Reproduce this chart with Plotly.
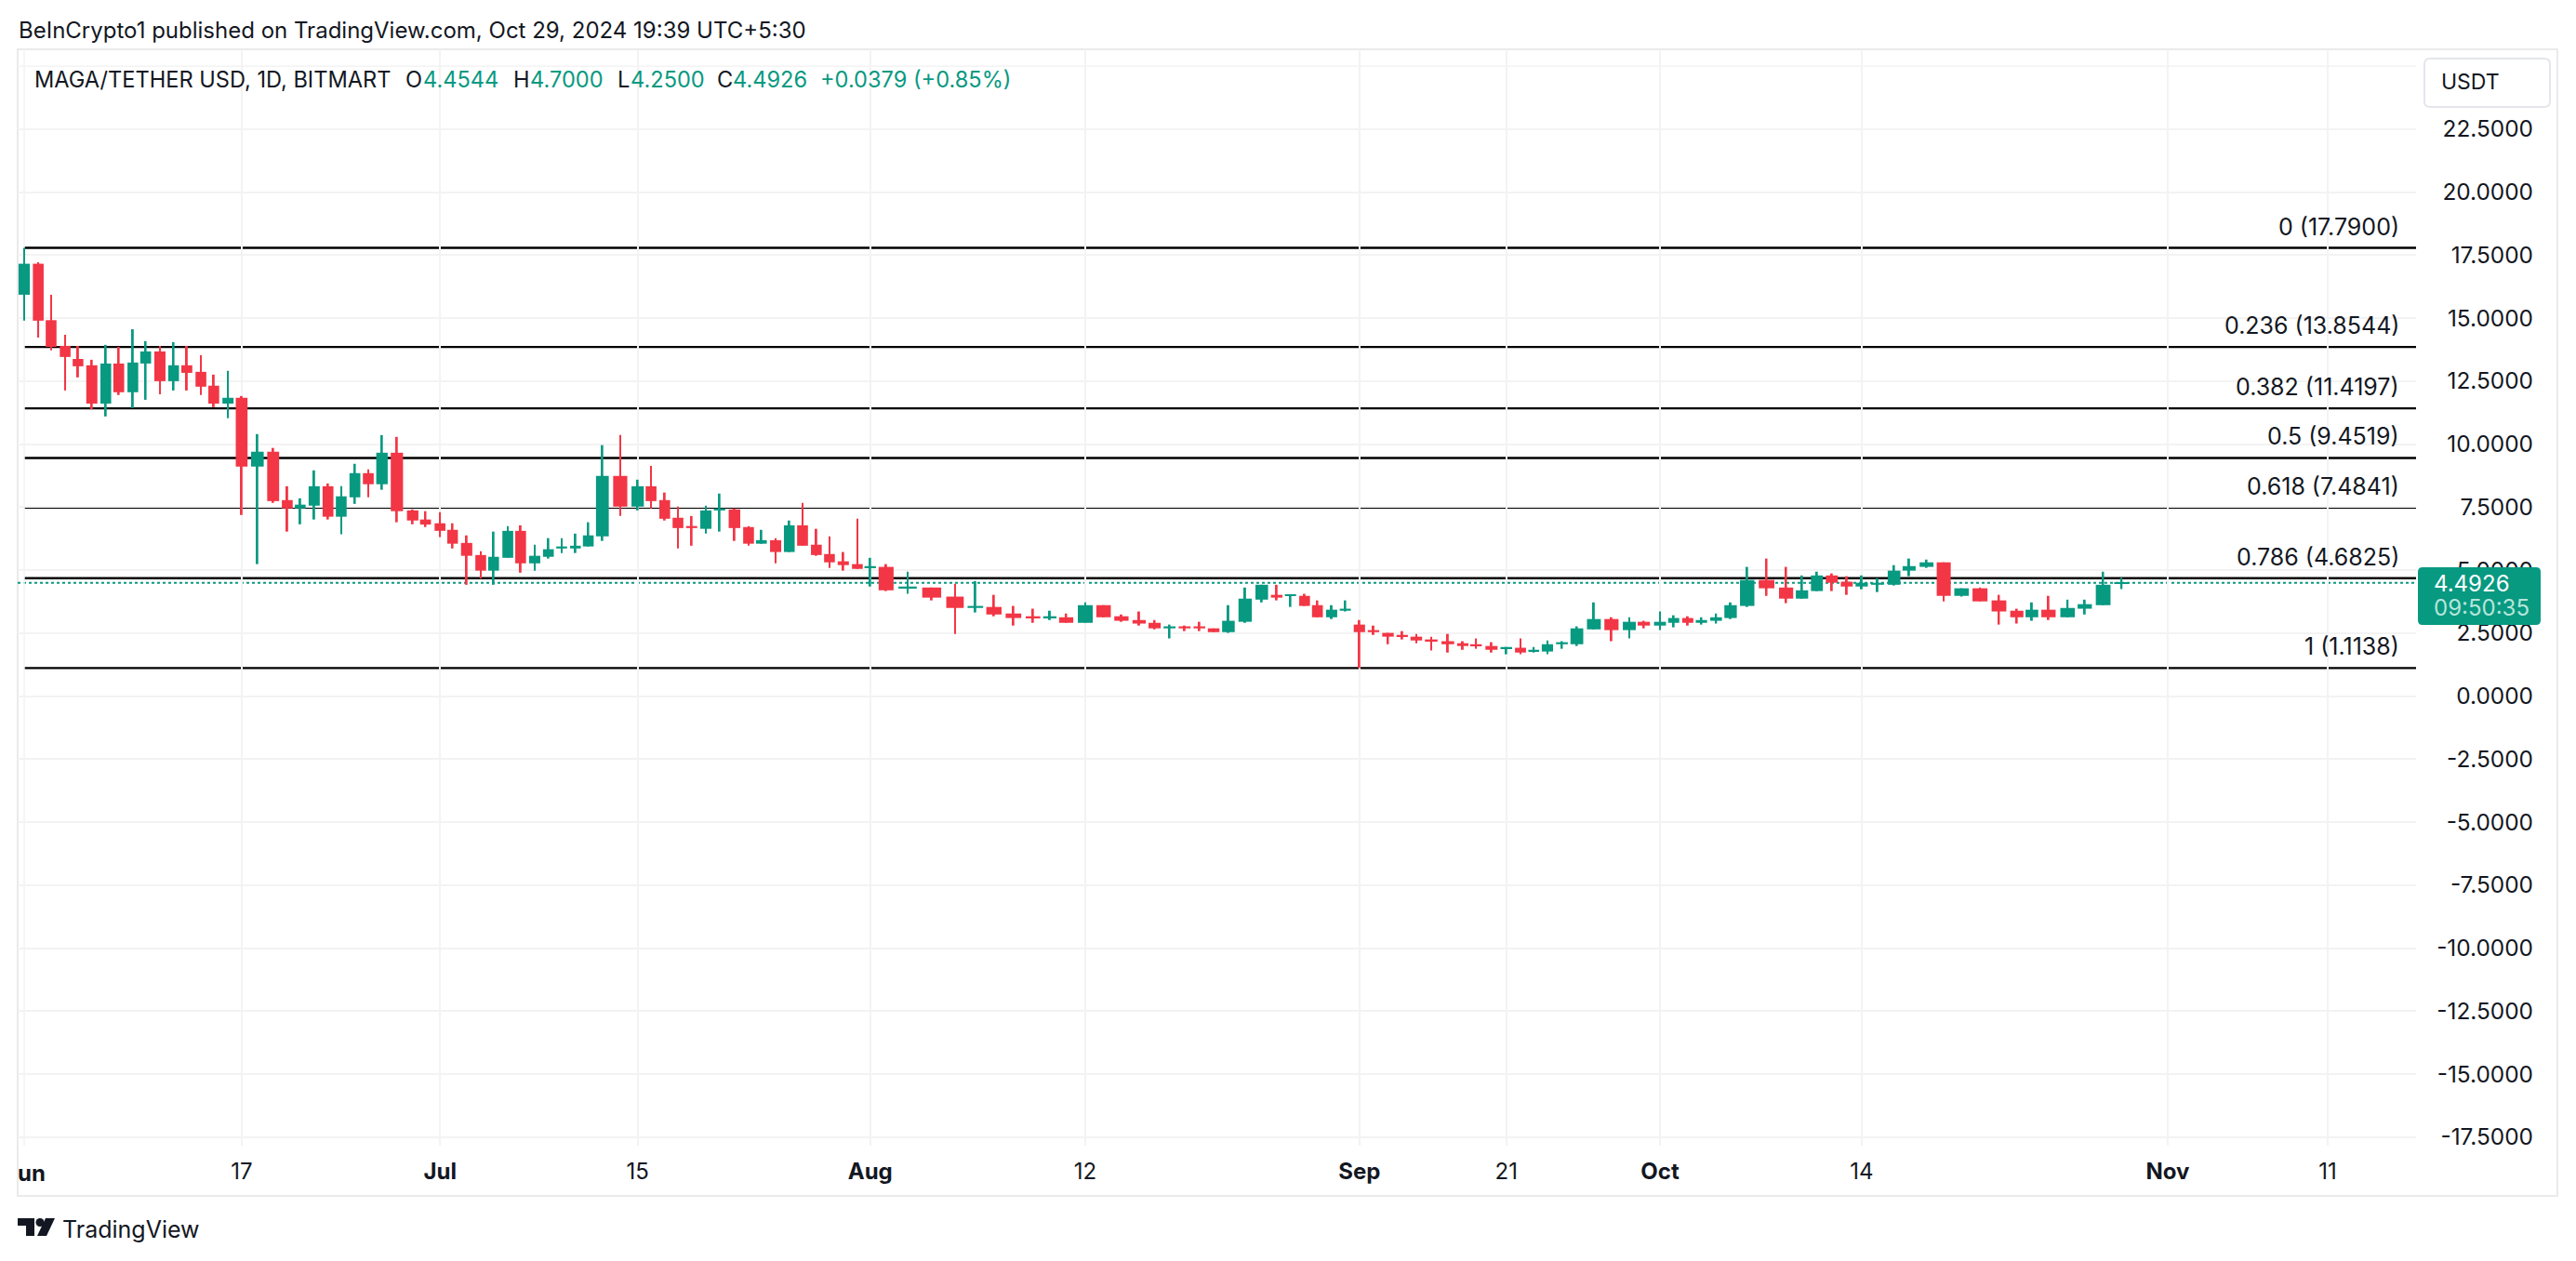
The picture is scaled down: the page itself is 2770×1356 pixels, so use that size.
import numpy as np
import plotly.graph_objects as go

W, H = 2770, 1356
ML, MR, MT, MB = 19, 20, 53, 124
PW, PH = W - ML - MR, H - MT - MB
GREEN, RED, INK = "#089981", "#F23645", "#131722"
GRID, BORDER = "#F3F3F3", "#EAEAEA"
FONT = "Inter"

bar_pos = [0,1.01,1.93,2.94,3.86,4.85,5.85,6.78,7.79,8.71,
 9.73,10.71,11.66,12.67,13.59,14.61,15.59,16.72,17.85,18.86,
 19.79,20.79,21.78,22.73,23.71,24.67,25.65,26.72,27.85,28.77,
 29.81,30.71,31.72,32.73,33.65,34.67,35.59,36.6,37.58,38.53,
 39.52,40.44,41.45,42.73,43.98,44.94,45.92,46.87,47.85,48.87,
 49.85,50.92,51.93,52.85,53.87,54.85,55.8,56.79,57.73,58.72,
 59.73,60.65,61.79,63.33,65.06,66.73,68.19,69.52,70.92,72.32,
 73.53,74.7,76.07,77.38,78.66,79.93,81.04,82.11,83.19,84.25,
 85.27,86.33,87.53,88.72,89.79,90.78,91.79,92.71,93.73,94.71,
 95.72,96.73,97.77,98.79,99.8,100.87,102.06,103.13,104.08,105.19,
 106.25,107.27,108.22,109.2,110.24,111.31,112.53,113.79,115.07,116.11,
 117.27,118.25,119.26,120.24,121.29,122.33,123.52,124.91,126.31,127.45,
 128.52,129.59,130.66,131.73,132.86,134.05,135.13,136.38,137.61,138.89,
 140.21,141.57,142.85,143.93,145.12,146.49,147.72,149.04,150.36]

open_ = [15.93,17.16,14.92,13.90,13.38,13.13,11.61,13.20,12.06,13.20,
 13.68,12.50,13.13,12.87,12.32,11.61,11.84,9.11,9.70,7.78,
 7.45,7.56,8.33,7.12,7.89,8.85,8.41,9.66,7.37,7.01,
 6.86,6.60,6.08,5.60,4.98,5.49,6.56,5.27,5.53,5.86,
 5.86,5.94,6.34,8.74,7.52,8.33,7.78,7.08,6.75,6.64,
 7.37,7.41,6.71,6.05,6.19,5.72,6.78,6.01,5.64,5.35,
 5.24,5.09,5.13,4.28,4.31,3.95,3.50,3.54,3.28,3.17,
 3.10,3.13,2.91,3.61,3.17,3.02,2.91,2.69,2.77,2.77,
 2.69,2.54,2.95,3.83,4.02,3.98,3.98,3.61,3.13,3.39,
 2.84,2.62,2.51,2.43,2.36,2.25,2.18,2.10,2.06,1.99,
 1.88,1.92,1.77,1.77,2.06,2.06,2.65,3.06,2.62,2.95,
 2.80,2.91,3.10,2.91,2.99,3.10,3.58,4.61,4.31,3.87,
 4.17,4.79,4.54,4.35,4.42,4.42,4.98,5.13,5.31,3.98,
 4.28,3.80,3.39,3.13,3.43,3.13,3.47,3.61,4.4544]
high = [17.79,17.22,15.93,14.34,13.90,13.35,13.94,13.86,14.56,14.09,
 13.90,14.05,13.90,13.53,12.76,12.91,11.91,10.40,9.85,8.33,
 7.85,8.96,8.44,8.33,9.22,9.00,10.36,10.29,7.41,7.34,
 7.30,6.86,6.38,5.75,6.53,6.75,6.78,6.01,6.27,6.27,
 6.45,6.90,9.96,10.36,8.59,9.14,8.08,7.52,7.15,7.56,
 8.04,7.45,6.75,6.60,6.27,6.97,7.67,6.64,6.34,5.72,
 7.04,5.49,5.24,4.94,4.31,4.46,4.57,4.02,3.58,3.47,
 3.39,3.28,3.72,3.61,3.24,3.36,3.02,2.84,2.80,2.95,
 2.69,3.61,4.31,4.42,4.42,4.02,4.06,3.80,3.61,3.80,
 3.02,2.80,2.51,2.58,2.47,2.36,2.47,2.18,2.29,2.14,
 1.95,2.29,1.95,2.21,2.18,2.77,3.72,3.13,3.13,2.99,
 3.36,3.21,3.17,3.13,3.28,3.72,5.13,5.46,5.13,4.79,
 4.94,4.87,4.76,4.79,4.68,5.20,5.46,5.42,5.31,4.28,
 4.31,4.02,3.47,3.72,3.98,3.83,3.83,4.94,4.70]
low = [14.90,14.23,13.72,12.13,12.65,11.38,11.10,11.95,11.43,11.76,
 11.98,12.13,12.13,11.95,11.47,11.03,7.19,5.24,7.67,6.53,
 6.82,7.01,7.01,6.42,7.63,7.89,8.19,6.90,6.82,6.71,
 6.31,5.86,4.42,4.66,4.42,5.49,4.90,4.98,5.46,5.68,
 5.68,5.94,6.16,7.15,7.37,7.45,6.97,5.86,5.97,6.45,
 6.53,6.16,5.97,6.05,5.27,5.72,5.97,5.57,5.09,4.98,
 5.05,4.35,4.17,4.06,3.80,2.47,3.32,3.17,2.80,2.91,
 3.02,2.91,2.91,3.13,2.95,2.80,2.65,2.29,2.58,2.58,
 2.54,2.51,2.91,3.72,3.80,3.54,3.58,3.13,3.06,3.36,
 1.11,2.43,2.06,2.25,2.10,1.81,1.73,1.84,1.88,1.73,
 1.66,1.66,1.73,1.66,1.88,1.99,2.65,2.18,2.29,2.69,
 2.62,2.73,2.80,2.84,2.88,3.06,3.54,3.98,3.69,3.87,
 4.17,4.17,4.02,4.24,4.13,4.39,4.76,5.09,3.76,3.95,
 3.76,2.84,2.88,2.99,3.02,3.13,3.24,3.61,4.25]
close = [17.16,14.90,13.86,13.46,13.09,11.61,13.20,12.06,13.24,13.68,
 12.50,13.13,12.83,12.28,11.61,11.84,9.11,9.70,7.74,7.45,
 7.60,8.33,7.12,7.93,8.85,8.41,9.66,7.34,6.97,6.81,
 6.56,6.05,5.57,4.98,5.53,6.56,5.27,5.57,5.83,5.94,
 5.97,6.38,8.74,7.52,8.33,7.74,7.04,6.67,6.67,7.37,
 7.45,6.67,6.05,6.19,5.72,6.78,5.97,5.60,5.31,5.20,
 5.05,5.16,4.20,4.35,3.91,3.50,3.58,3.24,3.10,3.10,
 3.17,2.91,3.61,3.13,2.99,2.88,2.69,2.77,2.69,2.69,
 2.54,2.99,3.87,4.42,3.91,4.02,3.58,3.13,3.43,3.47,
 2.54,2.54,2.36,2.36,2.21,2.18,2.06,1.99,1.99,1.84,
 1.95,1.73,1.84,2.06,2.14,2.69,3.06,2.62,2.95,2.80,
 2.95,3.10,2.91,3.02,3.13,3.61,4.61,4.28,3.87,4.20,
 4.79,4.50,4.35,4.50,4.50,4.98,5.16,5.31,3.98,4.28,
 3.76,3.36,3.13,3.43,3.13,3.50,3.65,4.42,4.4926]

price_ticks = [22.5,20,17.5,15,12.5,10,7.5,5,2.5,0,-2.5,-5,-7.5,-10,-12.5,-15,-17.5]
grid_only_price = 25
time_tick_pos = [15.59,29.81,43.98,60.65,76.07,95.72,106.25,117.27,131.73,153.67,165.13]
time_tick_text = ["17","<b>Jul</b>","15","<b>Aug</b>","12","<b>Sep</b>","21","<b>Oct</b>","14","<b>Nov</b>","11"]
first_tick_pos = 0
fib_ratio = ["0","0.236","0.382","0.5","0.618","0.786","1"]
fib_price = [17.79,13.8544,11.4197,9.4519,7.4841,4.6825,1.1138]
last_price = 4.4926

x_range = [-0.467, 171.47]
y_range = [-17.84, 25.67]

px = lambda x: (x - ML) / PW
py = lambda y: 1 - (y - MT) / PH

pos = np.array(bar_pos)
o, h, l, c = map(np.array, (open_, high, low, close))
colors = [GREEN if cc >= oo else RED for oo, cc in zip(o, c)]
body_w = np.gradient(pos) * 0.8

fig = go.Figure()
fig.add_trace(go.Bar(x=pos, y=h - l, base=l, width=0.125, marker=dict(color=colors, line_width=0),
                     name="Wick", showlegend=False, hoverinfo="skip"))
fig.add_trace(go.Bar(x=pos, y=np.maximum(np.abs(c - o), 0.06), base=np.minimum(o, c), width=body_w,
                     marker=dict(color=colors, line_width=0), name="MAGA/USDT", showlegend=False))

shapes, anns = [], []
def text(t, x, y, anchor="left", size=24, color=INK):
    anns.append(dict(text=t, x=px(x), y=py(y), xref="paper", yref="paper", xanchor=anchor, yanchor="middle",
                     showarrow=False, font=dict(family=FONT, size=size, color=color), borderpad=0, borderwidth=0))

for r, p in zip(fib_ratio, fib_price):
    shapes.append(dict(type="line", layer="below", xref="x", yref="y", x0=0, x1=x_range[1], y0=p, y1=p,
                       line=dict(color="#000000", width=2.4)))
    anns.append(dict(text=f"{r} ({p:.4f})", x=px(2581), y=p, xref="paper", yref="y", xanchor="right", yanchor="bottom",
                     yshift=7, showarrow=False, font=dict(family=FONT, size=25, color=INK), borderpad=0))
shapes.append(dict(type="line", layer="below", xref="x", yref="y", x0=x_range[0], x1=x_range[1], y0=last_price, y1=last_price,
                   line=dict(color=GREEN, width=2, dash="dot")))
shapes.append(dict(type="line", layer="below", xref="x", yref="y", x0=x_range[0], x1=x_range[1], y0=grid_only_price, y1=grid_only_price,
                   line=dict(color=GRID, width=1.5)))
shapes.append(dict(type="line", layer="below", xref="x", yref="y", x0=first_tick_pos, x1=first_tick_pos, y0=y_range[0], y1=y_range[1],
                   line=dict(color=GRID, width=1.5)))

# pane border
shapes.append(dict(type="rect", xref="paper", yref="paper", x0=px(19), x1=px(2750), y0=py(53), y1=py(1286),
                   line=dict(color=BORDER, width=2), layer="below"))
# USDT box
def rrect(x0, y0, x1, y1, r):
    X, Y = px, py
    return (f"M{X(x0+r)},{Y(y0)} L{X(x1-r)},{Y(y0)} Q{X(x1)},{Y(y0)} {X(x1)},{Y(y0+r)} L{X(x1)},{Y(y1-r)} "
            f"Q{X(x1)},{Y(y1)} {X(x1-r)},{Y(y1)} L{X(x0+r)},{Y(y1)} Q{X(x0)},{Y(y1)} {X(x0)},{Y(y1-r)} "
            f"L{X(x0)},{Y(y0+r)} Q{X(x0)},{Y(y0)} {X(x0+r)},{Y(y0)} Z")
shapes.append(dict(type="path", path=rrect(2607, 63, 2742, 115, 6), xref="paper", yref="paper",
                   line=dict(color="#E4E6EB", width=2), fillcolor="#FFFFFF"))
text("USDT", 2625, 88, size=23)
# price label
shapes.append(dict(type="path", path=rrect(2600, 610, 2732, 672, 5), xref="paper", yref="paper",
                   line=dict(width=0), fillcolor=GREEN, layer="above"))
text(f"{last_price:.4f}", 2617, 627, color="#FFFFFF")
text("09:50:35", 2617, 654, color="#B5E5DA")

# header
text("BeInCrypto1 published on TradingView.com, Oct 29, 2024 19:39 UTC+5:30", 20, 32, size=24)
text("MAGA/TETHER USD, 1D, BITMART", 37, 86, size=23.6)
for lab, lx, val, vx in [("O",436,"4.4544",455),("H",552,"4.7000",570),("L",664,"4.2500",678),("C",771,"4.4926",788)]:
    text(lab, lx, 86, size=23.6)
    text(val, vx, 86, size=23.6, color=GREEN)
text("+0.0379 (+0.85%)", 882, 86, size=23.6, color=GREEN)

# clipped first month label
text("<b>un</b>", 19, 1261, size=24)
# logo
text("TradingView", 67, 1322, size=25)
for path in [f"M{px(19)},{py(1310)} L{px(37)},{py(1310)} L{px(37)},{py(1329)} L{px(28)},{py(1329)} L{px(28)},{py(1318)} L{px(19)},{py(1318)} Z",
             f"M{px(59)},{py(1310)} L{px(50)},{py(1329)} L{px(40)},{py(1329)} L{px(49)},{py(1310)} Z"]:
    shapes.append(dict(type="path", path=path, xref="paper", yref="paper", fillcolor=INK, line=dict(width=0)))
shapes.append(dict(type="circle", xref="paper", yref="paper", x0=px(38.5), x1=px(47.5), y0=py(1310), y1=py(1319),
                   fillcolor=INK, line=dict(width=0)))

fig.update_layout(
    width=W, height=H, margin=dict(l=ML, r=MR, t=MT, b=MB, pad=0),
    paper_bgcolor="#FFFFFF", plot_bgcolor="#FFFFFF", barmode="overlay", showlegend=False,
    font=dict(family=FONT, size=24, color=INK), shapes=shapes, annotations=anns,
    xaxis=dict(domain=[0, (2598 - ML) / PW], range=x_range, tickmode="array", tickvals=time_tick_pos, ticktext=time_tick_text,
               showgrid=True, gridcolor=GRID, gridwidth=1.5, zeroline=False, showline=False, ticks="", ticklabelstandoff=11,
               tickfont=dict(family=FONT, size=24, color=INK), tickangle=0),
    yaxis=dict(range=y_range, tickmode="array", tickvals=price_ticks, ticktext=[f"{v:.4f}" for v in price_ticks],
               side="left", anchor="free", position=px(2724), showgrid=True, gridcolor=GRID, gridwidth=1.5,
               zeroline=False, showline=False, ticks="", tickfont=dict(family=FONT, size=24.4, color=INK)),
)
fig.write_html("out.html", config={"displayModeBar": False},
               post_script="document.body.style.margin='0';document.body.style.overflow='hidden';")
